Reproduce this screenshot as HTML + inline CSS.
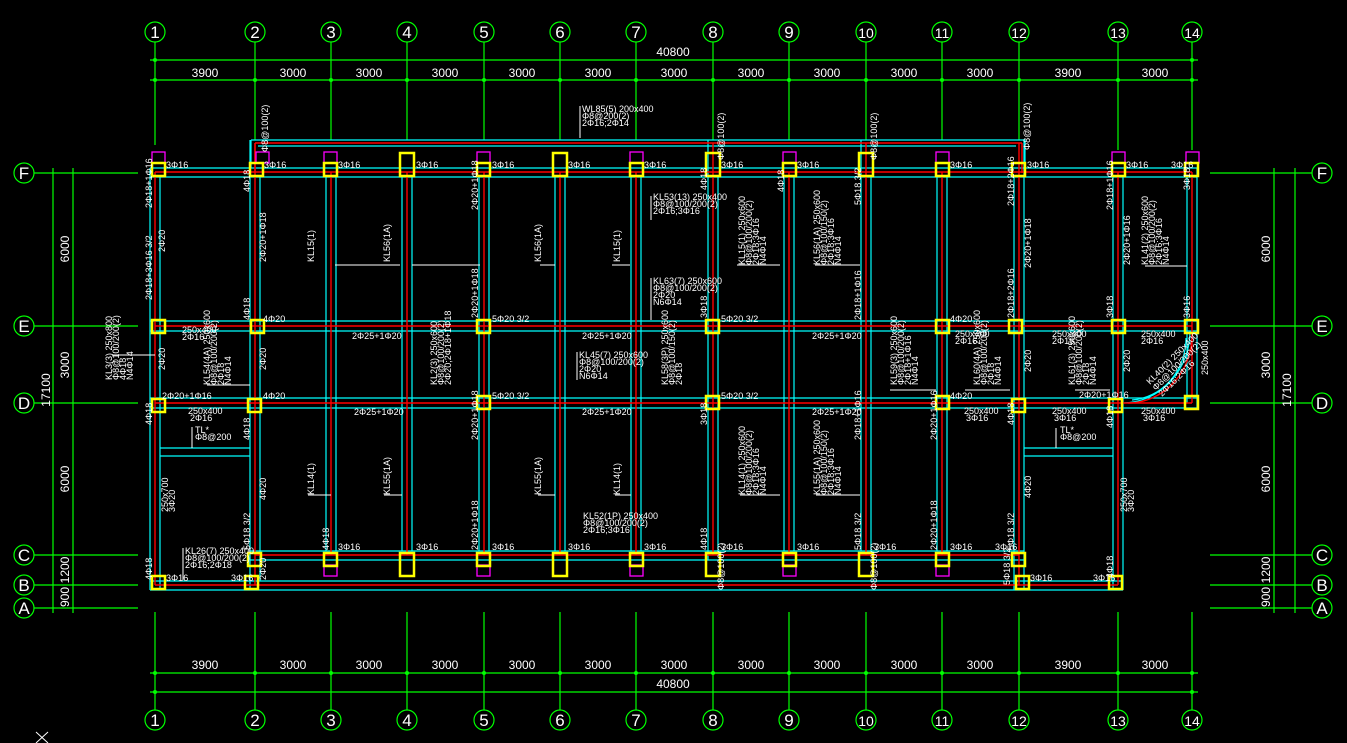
<!DOCTYPE html>
<html><head><meta charset="utf-8"><style>
html,body{margin:0;padding:0;background:#000;}
svg{display:block}
text{font-family:"Liberation Sans Narrow","Liberation Sans",sans-serif;fill:#fff;}
.g{stroke:#00ff00;stroke-width:1.2;fill:none}
.c{stroke:#00ffff;stroke-width:1.2;fill:none}
.r{stroke:#ff0000;stroke-width:1.4;fill:none}
.y{stroke:#ffff00;stroke-width:2.5;fill:none}
.m{stroke:#ff00ff;stroke-width:1.3;fill:none}
.w{stroke:#fff;stroke-width:1;fill:none}
.bt{font-family:"Liberation Serif",serif;font-size:17px;text-anchor:middle}
.d{font-size:12px;text-anchor:middle}
.s{font-size:9px}
</style></head><body>
<svg width="1347" height="743" viewBox="0 0 1347 743" xmlns="http://www.w3.org/2000/svg">
<rect width="1347" height="743" fill="#000"/>
<!-- grid lines top/bottom -->
<g class="g">
<path d="M155 42V145M255 42V140M331 42V140M407 42V140M484 42V140M560 42V140M636 42V140M713 42V140M789 42V140M866 42V140M942 42V140M1019 42V140M1118 42V150M1192 42V150"/>
<path d="M155 612V710M255 612V710M331 612V710M407 612V710M484 612V710M560 612V710M636 612V710M713 612V710M789 612V710M866 612V710M942 612V710M1019 612V710M1118 612V710M1192 612V710"/>
<path d="M150 60H1198M150 80H1198M150 673H1198M150 692H1198"/>
<path d="M34 173H138M34 326H138M34 403H138M34 555H138M34 585H138M34 608H138"/>
<path d="M1210 173H1312M1210 326H1312M1210 403H1312M1210 555H1312M1210 585H1312M1210 608H1312"/>
<path d="M53 168V613M73 168V613M1274 168V613M1295 168V613"/>
</g>
<g fill="#00ff00">
<circle cx="155" cy="60" r="2"/><circle cx="1192" cy="60" r="2"/>
<circle cx="155" cy="80" r="2"/><circle cx="255" cy="80" r="2"/><circle cx="331" cy="80" r="2"/><circle cx="407" cy="80" r="2"/><circle cx="484" cy="80" r="2"/><circle cx="560" cy="80" r="2"/><circle cx="636" cy="80" r="2"/><circle cx="713" cy="80" r="2"/><circle cx="789" cy="80" r="2"/><circle cx="866" cy="80" r="2"/><circle cx="942" cy="80" r="2"/><circle cx="1019" cy="80" r="2"/><circle cx="1118" cy="80" r="2"/><circle cx="1192" cy="80" r="2"/>
<circle cx="155" cy="673" r="2"/><circle cx="255" cy="673" r="2"/><circle cx="331" cy="673" r="2"/><circle cx="407" cy="673" r="2"/><circle cx="484" cy="673" r="2"/><circle cx="560" cy="673" r="2"/><circle cx="636" cy="673" r="2"/><circle cx="713" cy="673" r="2"/><circle cx="789" cy="673" r="2"/><circle cx="866" cy="673" r="2"/><circle cx="942" cy="673" r="2"/><circle cx="1019" cy="673" r="2"/><circle cx="1118" cy="673" r="2"/><circle cx="1192" cy="673" r="2"/>
<circle cx="155" cy="692" r="2"/><circle cx="1192" cy="692" r="2"/>
</g>
<!-- bubbles -->
<g class="g" stroke-width="1.5">
<circle cx="155" cy="32" r="10"/><circle cx="255" cy="32" r="10"/><circle cx="331" cy="32" r="10"/><circle cx="407" cy="32" r="10"/><circle cx="484" cy="32" r="10"/><circle cx="560" cy="32" r="10"/><circle cx="636" cy="32" r="10"/><circle cx="713" cy="32" r="10"/><circle cx="789" cy="32" r="10"/><circle cx="866" cy="32" r="10"/><circle cx="942" cy="32" r="10"/><circle cx="1019" cy="32" r="10"/><circle cx="1118" cy="32" r="10"/><circle cx="1192" cy="32" r="10"/>
<circle cx="155" cy="720" r="10"/><circle cx="255" cy="720" r="10"/><circle cx="331" cy="720" r="10"/><circle cx="407" cy="720" r="10"/><circle cx="484" cy="720" r="10"/><circle cx="560" cy="720" r="10"/><circle cx="636" cy="720" r="10"/><circle cx="713" cy="720" r="10"/><circle cx="789" cy="720" r="10"/><circle cx="866" cy="720" r="10"/><circle cx="942" cy="720" r="10"/><circle cx="1019" cy="720" r="10"/><circle cx="1118" cy="720" r="10"/><circle cx="1192" cy="720" r="10"/>
<circle cx="24" cy="173" r="10"/><circle cx="24" cy="326" r="10"/><circle cx="24" cy="403" r="10"/><circle cx="24" cy="555" r="10"/><circle cx="24" cy="585" r="10"/><circle cx="24" cy="608" r="10"/>
<circle cx="1322" cy="173" r="10"/><circle cx="1322" cy="326" r="10"/><circle cx="1322" cy="403" r="10"/><circle cx="1322" cy="555" r="10"/><circle cx="1322" cy="585" r="10"/><circle cx="1322" cy="608" r="10"/>
</g>
<g class="bt">
<text x="155" y="38">1</text><text x="255" y="38">2</text><text x="331" y="38">3</text><text x="407" y="38">4</text><text x="484" y="38">5</text><text x="560" y="38">6</text><text x="636" y="38">7</text><text x="713" y="38">8</text><text x="789" y="38">9</text><text x="866" y="38" font-size="14">10</text><text x="942" y="38" font-size="14">11</text><text x="1019" y="38" font-size="14">12</text><text x="1118" y="38" font-size="14">13</text><text x="1192" y="38" font-size="14">14</text>
<text x="155" y="726">1</text><text x="255" y="726">2</text><text x="331" y="726">3</text><text x="407" y="726">4</text><text x="484" y="726">5</text><text x="560" y="726">6</text><text x="636" y="726">7</text><text x="713" y="726">8</text><text x="789" y="726">9</text><text x="866" y="726" font-size="14">10</text><text x="942" y="726" font-size="14">11</text><text x="1019" y="726" font-size="14">12</text><text x="1118" y="726" font-size="14">13</text><text x="1192" y="726" font-size="14">14</text>
<text x="24" y="179">F</text><text x="24" y="332">E</text><text x="24" y="409">D</text><text x="24" y="561">C</text><text x="24" y="591">B</text><text x="24" y="614">A</text>
<text x="1322" y="179">F</text><text x="1322" y="332">E</text><text x="1322" y="409">D</text><text x="1322" y="561">C</text><text x="1322" y="591">B</text><text x="1322" y="614">A</text>
</g>
<!-- dimension text -->
<g class="d">
<text x="673" y="56">40800</text><text x="673" y="688">40800</text>
<text x="205" y="77">3900</text><text x="293" y="77">3000</text><text x="369" y="77">3000</text><text x="445" y="77">3000</text><text x="522" y="77">3000</text><text x="598" y="77">3000</text><text x="674" y="77">3000</text><text x="751" y="77">3000</text><text x="827" y="77">3000</text><text x="904" y="77">3000</text><text x="980" y="77">3000</text><text x="1068" y="77">3900</text><text x="1155" y="77">3000</text>
<text x="205" y="669">3900</text><text x="293" y="669">3000</text><text x="369" y="669">3000</text><text x="445" y="669">3000</text><text x="522" y="669">3000</text><text x="598" y="669">3000</text><text x="674" y="669">3000</text><text x="751" y="669">3000</text><text x="827" y="669">3000</text><text x="904" y="669">3000</text><text x="980" y="669">3000</text><text x="1068" y="669">3900</text><text x="1155" y="669">3000</text>
<text transform="translate(69,249) rotate(-90)">6000</text><text transform="translate(69,365) rotate(-90)">3000</text><text transform="translate(69,479) rotate(-90)">6000</text><text transform="translate(69,570) rotate(-90)">1200</text><text transform="translate(69,597) rotate(-90)">900</text><text transform="translate(50,390) rotate(-90)">17100</text>
<text transform="translate(1270,249) rotate(-90)">6000</text><text transform="translate(1270,365) rotate(-90)">3000</text><text transform="translate(1270,479) rotate(-90)">6000</text><text transform="translate(1270,570) rotate(-90)">1200</text><text transform="translate(1270,597) rotate(-90)">900</text><text transform="translate(1291,390) rotate(-90)">17100</text>
</g>
<!-- beams cyan -->
<g class="c">
<path d="M251 140H1025M258 146H1016M251 140V168M1025 140V168"/>
<path d="M150 168H1197M150 177H1197"/>
<path d="M150 321H1197M150 331H1197"/>
<path d="M150 398H1197M150 408H1197"/>
<path d="M160 448H250M160 456H250M1024 448H1113M1024 456H1113"/>
<path d="M250 551H1024M250 560H1024M150 581H1123M150 590H1123"/>
<path d="M150 168V590M160 177V590M250 140V590M260 177V581M326 177V551M336 177V551M402 177V551M412 177V551M479 177V551M489 177V551M555 177V551M565 177V551M631 177V551M641 177V551M708 140V560M718 177V551M784 177V551M794 177V551M861 140V551M871 177V551M937 177V551M947 177V551M1014 177V590M1024 140V590M1113 177V590M1123 177V590M1187 177V403M1197 168V408"/>
<path d="M1124 403A68 72 0 0 0 1190 331M1132 400A58 62 0 0 0 1186 338"/>
</g>
<!-- beams red -->
<g class="r">
<path d="M255 143H1022M255 143V173M1022 143V173"/>
<path d="M155 172H1192M155 326H1192M155 403H1192M255 555H1019M155 585H1118"/>
<path d="M155 172V585M255 143V585M331 172V555M407 172V555M484 172V555M560 172V555M636 172V555M713 143V555M789 172V555M866 143V555M942 172V555M1019 143V585M1118 172V585M1192 172V403"/>
<path d="M1128 403A64 68 0 0 0 1192 334"/>
</g>
<!-- columns -->
<g class="m">
<rect x="152" y="152" width="13" height="11"/><rect x="256" y="152" width="13" height="11"/><rect x="324" y="152" width="13" height="11"/><rect x="477" y="152" width="13" height="11"/><rect x="630" y="152" width="13" height="11"/><rect x="783" y="152" width="13" height="11"/><rect x="936" y="152" width="13" height="11"/><rect x="1112" y="152" width="13" height="11"/><rect x="1186" y="152" width="13" height="11"/>
<rect x="324" y="565" width="13" height="11"/><rect x="477" y="565" width="13" height="11"/><rect x="630" y="565" width="13" height="11"/><rect x="783" y="565" width="13" height="11"/><rect x="936" y="565" width="13" height="11"/>
</g>
<g class="y">
<rect x="152" y="163" width="13" height="13"/><rect x="250" y="163" width="13" height="13"/><rect x="324" y="163" width="13" height="13"/><rect x="400" y="153" width="14" height="23"/><rect x="477" y="163" width="13" height="13"/><rect x="553" y="153" width="14" height="23"/><rect x="630" y="163" width="13" height="13"/><rect x="706" y="153" width="14" height="23"/><rect x="783" y="163" width="13" height="13"/><rect x="859" y="153" width="14" height="23"/><rect x="936" y="163" width="13" height="13"/><rect x="1012" y="163" width="13" height="13"/><rect x="1112" y="163" width="13" height="13"/><rect x="1185" y="163" width="13" height="13"/>
<rect x="152" y="320" width="13" height="13"/><rect x="251" y="320" width="13" height="13"/><rect x="477" y="320" width="13" height="13"/><rect x="706" y="320" width="13" height="13"/><rect x="936" y="320" width="13" height="13"/><rect x="1009" y="320" width="13" height="13"/><rect x="1112" y="320" width="13" height="13"/><rect x="1185" y="320" width="13" height="13"/>
<rect x="152" y="399" width="13" height="13"/><rect x="248" y="399" width="13" height="13"/><rect x="477" y="396" width="13" height="13"/><rect x="706" y="396" width="13" height="13"/><rect x="936" y="396" width="13" height="13"/><rect x="1012" y="399" width="13" height="13"/><rect x="1109" y="399" width="13" height="13"/><rect x="1185" y="396" width="13" height="13"/>
<rect x="248" y="553" width="13" height="13"/><rect x="324" y="553" width="13" height="13"/><rect x="400" y="553" width="14" height="23"/><rect x="477" y="553" width="13" height="13"/><rect x="553" y="553" width="14" height="23"/><rect x="630" y="553" width="13" height="13"/><rect x="706" y="553" width="14" height="23"/><rect x="783" y="553" width="13" height="13"/><rect x="859" y="553" width="14" height="23"/><rect x="936" y="553" width="13" height="13"/><rect x="1012" y="553" width="13" height="13"/>
<rect x="152" y="576" width="13" height="13"/><rect x="245" y="576" width="13" height="13"/><rect x="1016" y="576" width="13" height="13"/><rect x="1109" y="576" width="13" height="13"/>
</g>
<!-- leader lines -->
<g class="w">
<path d="M580 106V138M651 196V220M651 278V320M577 352V380M183 548V580M1056 428V448M192 427V448M112 355H155M207 385H250M335 265H400M412 265H480M540 265H555M612 265H630M737 265H780M815 265H860M890 390H936M965 390H1010M1075 390H1110M1145 266H1187M740 495H780M816 495H860M308 495H331M384 495H402M538 495H555M615 495H631"/>
</g>
<!-- labels -->
<g class="s">
<text x="166" y="168">3Φ16</text><text x="264" y="168">3Φ16</text><text x="338" y="168">3Φ16</text><text x="416" y="168">3Φ16</text><text x="492" y="168">3Φ16</text><text x="568" y="168">3Φ16</text><text x="644" y="168">3Φ16</text><text x="721" y="168">3Φ16</text><text x="797" y="168">3Φ16</text><text x="950" y="168">3Φ16</text><text x="1027" y="168">3Φ16</text><text x="1126" y="168">3Φ16</text><text x="1171" y="168">3Φ16</text>
<text x="582" y="112">WL85(5) 200x400</text><text x="582" y="119">Φ8@200(2)</text><text x="582" y="126">2Φ16;2Φ14</text>
<text x="653" y="200">KL53(13) 250x400</text><text x="653" y="207">Φ8@100/200(2)</text><text x="653" y="214">2Φ16;3Φ16</text>
<text x="653" y="284">KL63(7) 250x600</text><text x="653" y="291">Φ8@100/200(2)</text><text x="653" y="298">2Φ20</text><text x="653" y="305">N6Φ14</text>
<text x="579" y="358">KL45(7) 250x600</text><text x="579" y="365">Φ8@100/200(2)</text><text x="579" y="372">2Φ20</text><text x="579" y="379">N6Φ14</text>
<text x="583" y="519">KL52(1P) 250x400</text><text x="583" y="526">Φ8@100/200(2)</text><text x="583" y="533">2Φ16;3Φ16</text>
<text x="185" y="554">KL26(7) 250x400</text><text x="185" y="561">Φ8@100/200(2)</text><text x="185" y="568">2Φ16;2Φ18</text>
<text x="182" y="333">250x400</text><text x="182" y="340">2Φ16</text>
<text x="188" y="414">250x400</text><text x="190" y="421">2Φ16</text>
<text x="955" y="337">250x400</text><text x="955" y="344">2Φ16</text><text x="1052" y="337">250x400</text><text x="1052" y="344">2Φ16</text><text x="1141" y="337">250x400</text><text x="1141" y="344">2Φ16</text>
<text x="964" y="414">250x400</text><text x="966" y="421">3Φ16</text><text x="1052" y="414">250x400</text><text x="1054" y="421">3Φ16</text><text x="1141" y="414">250x400</text><text x="1143" y="421">3Φ16</text>
<text x="162" y="399">2Φ20+1Φ16</text><text x="1079" y="398">2Φ20+1Φ16</text>
<text x="263" y="322">4Φ20</text><text x="263" y="399">4Φ20</text><text x="950" y="322">4Φ20</text><text x="950" y="399">4Φ20</text>
<text x="492" y="322">5Φ20 3/2</text><text x="492" y="399">5Φ20 3/2</text><text x="721" y="322">5Φ20 3/2</text><text x="721" y="399">5Φ20 3/2</text>
<text x="352" y="339">2Φ25+1Φ20</text><text x="582" y="339">2Φ25+1Φ20</text><text x="812" y="339">2Φ25+1Φ20</text>
<text x="354" y="415">2Φ25+1Φ20</text><text x="582" y="415">2Φ25+1Φ20</text><text x="812" y="415">2Φ25+1Φ20</text>
<text x="166" y="581">3Φ16</text><text x="231" y="581">3Φ16</text><text x="338" y="550">3Φ16</text><text x="416" y="550">3Φ16</text><text x="492" y="550">3Φ16</text><text x="568" y="550">3Φ16</text><text x="644" y="550">3Φ16</text><text x="721" y="550">3Φ16</text><text x="797" y="550">3Φ16</text><text x="874" y="550">3Φ16</text><text x="950" y="550">3Φ16</text><text x="995" y="550">3Φ16</text><text x="1030" y="581">3Φ16</text><text x="1093" y="581">3Φ16</text>
<text x="195" y="433">TL*</text><text x="195" y="440">Φ8@200</text><text x="1060" y="433">TL*</text><text x="1060" y="440">Φ8@200</text>
</g>
<g class="s">
<text transform="translate(152,208) rotate(-90)">2Φ18+1Φ16</text>
<text transform="translate(152,300) rotate(-90)">2Φ18+3Φ16 3/2</text>
<text transform="translate(165,252) rotate(-90)">2Φ20</text>
<text transform="translate(165,370) rotate(-90)">2Φ20</text>
<text transform="translate(152,425) rotate(-90)">4Φ18</text>
<text transform="translate(152,580) rotate(-90)">4Φ18</text>
<text transform="translate(168,512) rotate(-90)">250x700</text><text transform="translate(175,512) rotate(-90)">3Φ20</text>
<text transform="translate(250,192) rotate(-90)">4Φ18</text>
<text transform="translate(268,152) rotate(-90)">Φ8@100(2)</text>
<text transform="translate(266,262) rotate(-90)">2Φ20+1Φ18</text>
<text transform="translate(266,370) rotate(-90)">2Φ20</text>
<text transform="translate(250,320) rotate(-90)">4Φ18</text>
<text transform="translate(250,440) rotate(-90)">4Φ18</text>
<text transform="translate(266,500) rotate(-90)">4Φ20</text>
<text transform="translate(250,550) rotate(-90)">5Φ18 3/2</text>
<text transform="translate(266,580) rotate(-90)">2Φ20</text>
<text transform="translate(314,262) rotate(-90)">KL15(1)</text>
<text transform="translate(390,262) rotate(-90)">KL56(1A)</text>
<text transform="translate(541,262) rotate(-90)">KL56(1A)</text>
<text transform="translate(620,262) rotate(-90)">KL15(1)</text>
<text transform="translate(314,495) rotate(-90)">KL14(1)</text>
<text transform="translate(390,495) rotate(-90)">KL55(1A)</text>
<text transform="translate(541,495) rotate(-90)">KL55(1A)</text>
<text transform="translate(620,495) rotate(-90)">KL14(1)</text>
<text transform="translate(478,210) rotate(-90)">2Φ20+1Φ18</text>
<text transform="translate(478,318) rotate(-90)">2Φ20+1Φ18</text>
<text transform="translate(478,440) rotate(-90)">2Φ20+1Φ18</text>
<text transform="translate(478,550) rotate(-90)">2Φ20+1Φ18</text>
<text transform="translate(329,550) rotate(-90)">4Φ18</text>
<text transform="translate(707,190) rotate(-90)">4Φ18</text>
<text transform="translate(707,318) rotate(-90)">3Φ18</text>
<text transform="translate(707,425) rotate(-90)">3Φ18</text>
<text transform="translate(707,550) rotate(-90)">4Φ18</text>
<text transform="translate(724,160) rotate(-90)">Φ8@100(2)</text>
<text transform="translate(724,590) rotate(-90)">Φ8@100(2)</text>
<text transform="translate(784,192) rotate(-90)">4Φ18</text>
<text transform="translate(861,205) rotate(-90)">5Φ18 3/2</text>
<text transform="translate(877,160) rotate(-90)">Φ8@100(2)</text>
<text transform="translate(861,320) rotate(-90)">2Φ18+1Φ16</text>
<text transform="translate(861,440) rotate(-90)">2Φ18+1Φ16</text>
<text transform="translate(861,550) rotate(-90)">5Φ18 3/2</text>
<text transform="translate(877,590) rotate(-90)">Φ8@100(2)</text>
<text transform="translate(937,440) rotate(-90)">2Φ20+1Φ16</text>
<text transform="translate(937,550) rotate(-90)">2Φ20+1Φ18</text>
<text transform="translate(1014,206) rotate(-90)">2Φ18+2Φ16</text>
<text transform="translate(1030,150) rotate(-90)">Φ8@100(2)</text>
<text transform="translate(1031,268) rotate(-90)">2Φ20+1Φ18</text>
<text transform="translate(1014,318) rotate(-90)">2Φ18+2Φ16</text>
<text transform="translate(1031,372) rotate(-90)">2Φ20</text>
<text transform="translate(1014,425) rotate(-90)">4Φ18</text>
<text transform="translate(1031,498) rotate(-90)">4Φ20</text>
<text transform="translate(1014,550) rotate(-90)">5Φ18 3/2</text>
<text transform="translate(1010,585) rotate(-90)">5Φ18 3/2</text>
<text transform="translate(1113,210) rotate(-90)">2Φ18+1Φ16</text>
<text transform="translate(1130,265) rotate(-90)">2Φ20+1Φ16</text>
<text transform="translate(1113,318) rotate(-90)">3Φ18</text>
<text transform="translate(1130,372) rotate(-90)">2Φ20</text>
<text transform="translate(1113,428) rotate(-90)">4Φ18</text>
<text transform="translate(1127,512) rotate(-90)">250x700</text><text transform="translate(1134,512) rotate(-90)">3Φ20</text>
<text transform="translate(1113,578) rotate(-90)">4Φ18</text>
<text transform="translate(1190,190) rotate(-90)">3Φ18</text>
<text transform="translate(1190,318) rotate(-90)">3Φ16</text>
<text transform="translate(1208,375) rotate(-90)">250x400</text>
<text transform="translate(112,380) rotate(-90)">KL3(3) 250x800</text><text transform="translate(119,380) rotate(-90)">Φ8@100/200(2)</text><text transform="translate(126,380) rotate(-90)">4Φ18</text><text transform="translate(133,380) rotate(-90)">N4Φ14</text>
<text transform="translate(210,385) rotate(-90)">KL54(4A) 250x600</text><text transform="translate(217,385) rotate(-90)">Φ8@100/200(2)</text><text transform="translate(224,385) rotate(-90)">2Φ18</text><text transform="translate(231,385) rotate(-90)">N4Φ14</text>
<text transform="translate(437,385) rotate(-90)">KL2(3) 250x600</text><text transform="translate(444,385) rotate(-90)">Φ8@100/200(2)</text><text transform="translate(451,385) rotate(-90)">2Φ20;2Φ18+1Φ18</text>
<text transform="translate(668,385) rotate(-90)">KL58(3P) 250x600</text><text transform="translate(675,385) rotate(-90)">Φ8@100/150(2)</text><text transform="translate(682,385) rotate(-90)">2Φ18</text>
<text transform="translate(897,385) rotate(-90)">KL59(3) 250x600</text><text transform="translate(904,385) rotate(-90)">Φ8@100/200(2)</text><text transform="translate(911,385) rotate(-90)">2Φ18+1Φ16</text><text transform="translate(918,385) rotate(-90)">N4Φ14</text>
<text transform="translate(980,385) rotate(-90)">KL60(4A) 250x600</text><text transform="translate(987,385) rotate(-90)">Φ8@100/200(2)</text><text transform="translate(994,385) rotate(-90)">2Φ18</text><text transform="translate(1001,385) rotate(-90)">N4Φ14</text>
<text transform="translate(1075,385) rotate(-90)">KL61(3) 250x600</text><text transform="translate(1082,385) rotate(-90)">Φ8@100/200(2)</text><text transform="translate(1089,385) rotate(-90)">2Φ18</text><text transform="translate(1096,385) rotate(-90)">N4Φ14</text>
<text transform="translate(745,265) rotate(-90)">KL15(1) 250x600</text><text transform="translate(752,265) rotate(-90)">Φ8@100/200(2)</text><text transform="translate(759,265) rotate(-90)">2Φ18;3Φ16</text><text transform="translate(766,265) rotate(-90)">N4Φ14</text>
<text transform="translate(820,265) rotate(-90)">KL56(1A) 250x600</text><text transform="translate(827,265) rotate(-90)">Φ8@100/150(2)</text><text transform="translate(834,265) rotate(-90)">2Φ18;3Φ16</text><text transform="translate(841,265) rotate(-90)">N4Φ14</text>
<text transform="translate(745,495) rotate(-90)">KL14(1) 250x600</text><text transform="translate(752,495) rotate(-90)">Φ8@100/200(2)</text><text transform="translate(759,495) rotate(-90)">2Φ18;3Φ16</text><text transform="translate(766,495) rotate(-90)">N4Φ14</text>
<text transform="translate(820,495) rotate(-90)">KL55(1A) 250x600</text><text transform="translate(827,495) rotate(-90)">Φ8@100/150(2)</text><text transform="translate(834,495) rotate(-90)">2Φ18;3Φ16</text><text transform="translate(841,495) rotate(-90)">N4Φ14</text>
<text transform="translate(1148,265) rotate(-90)">KL41(2) 250x600</text><text transform="translate(1155,265) rotate(-90)">Φ8@100/200(2)</text><text transform="translate(1162,265) rotate(-90)">2Φ16;3Φ16</text><text transform="translate(1169,265) rotate(-90)">N4Φ14</text>
<text transform="translate(1150,385) rotate(-45)">KL40(2) 250x400</text><text transform="translate(1156,391) rotate(-45)">Φ8@100/200(2)</text><text transform="translate(1162,397) rotate(-45)">2Φ16;2Φ16</text>
</g>
<g stroke="#fff" stroke-width="1"><path d="M36 732L48 743M48 732L36 743"/></g>
</svg>
</body></html>
